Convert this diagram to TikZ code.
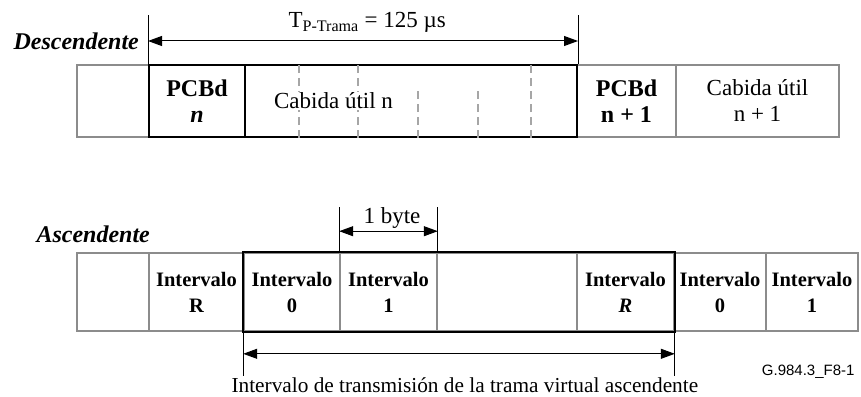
\documentclass[tikz,border=0pt]{standalone}
\usepackage{fontspec}
\setmainfont{Liberation Serif}
\newfontfamily\figfont{Liberation Sans}
\usetikzlibrary{arrows.meta}
\definecolor{frame}{gray}{0.55}
\definecolor{sepgray}{gray}{0.65}

\begin{document}
\begin{tikzpicture}[x=1pt, y=-1pt, >={Triangle[length=14pt, width=10pt]},
    box/.style = {draw=frame, line width=1.6pt, inner sep=0pt, align=center},
    down/.style = {box, minimum height=72pt},
    up/.style = {box, minimum height=78pt},
    heavy/.style = {draw=black, line width=2pt},
    txt/.style = {font=\fontsize{23}{26}\selectfont},
    btxt/.style = {font=\fontsize{24}{26}\selectfont\bfseries},
    slot/.style = {font=\fontsize{20.5}{26}\selectfont\bfseries},
    tick/.style = {line width=1pt},
    sep/.style = {draw=sepgray, line width=1.8pt, dash pattern=on 8pt off 5pt}]
    \useasboundingbox (0,0) rectangle (861,396);

    % Descendente
    \node[down, minimum width=72pt] (d0) at (113,101) {};
    \node[down, btxt, minimum width=99pt] (pcbd1) at (626.5,101) {PCBd\\n + 1};
    \node[down, txt, minimum width=163pt] (cab1) at (757.5,101) {Cabida útil\\n + 1};
    \node[down, heavy, btxt, minimum width=96pt] (pcbd) at (197,101) {PCBd\\\textit{n}};
    \node[down, heavy, minimum width=332pt] (payload) at (411,101) {};
    \foreach \dx/\dy in {55/0, 114/0, 174/23, 234/23, 287/0}
        \draw[sep] ([xshift=\dx pt]payload.south west) -- ([xshift=\dx pt, yshift=-\dy pt]payload.north west);
    \node[txt, fill=white, inner sep=1pt] (cab) at (333.5,101) {Cabida útil n};

    \node[font=\fontsize{24}{26}\selectfont\bfseries\itshape, anchor=base west] (dlabel) at (10,50) {Descendente};
    \coordinate (ta) at ([yshift=49pt]pcbd.north west);
    \coordinate (tb) at ([yshift=49pt]payload.north east);
    \draw[tick] (pcbd.north west) -- (ta);
    \draw[tick] (payload.north east) -- (tb);
    \draw[tick, <->] ([yshift=23pt]pcbd.north west) -- ([yshift=23pt]payload.north east);
    \node[txt, anchor=base west] (period) at (285,28) {T\textsubscript{P-Trama} = 125 µs};

    % Ascendente
    \node[up, minimum width=72pt] (u0) at (113,292) {};
    \node[up, slot, minimum width=95pt] (uR) at (196.5,292) {Intervalo\\R};
    \node[up, slot, minimum width=96pt] (ui0) at (292,292) {Intervalo\\0};
    \node[up, slot, minimum width=97pt] (ui1) at (388.5,292) {Intervalo\\1};
    \node[up, minimum width=140pt] (uempty) at (507,292) {};
    \node[up, slot, minimum width=97pt] (uiR) at (625.5,292) {Intervalo\\\textit{R}};
    \node[up, slot, minimum width=92pt] (un0) at (720,292) {Intervalo\\0};
    \node[up, slot, minimum width=92pt] (un1) at (812,292) {Intervalo\\1};
    \draw[heavy] (ui0.north west) rectangle (uiR.south east);

    \node[font=\fontsize{24}{26}\selectfont\bfseries\itshape, anchor=base west] (alabel) at (33,242) {Ascendente};
    \coordinate (ba) at ([yshift=45pt]ui1.north west);
    \coordinate (bb) at ([yshift=45pt]ui1.north east);
    \draw[tick] (ui1.north west) -- (ba);
    \draw[tick] (ui1.north east) -- (bb);
    \draw[tick, <->] ([yshift=21pt]ui1.north west) -- ([yshift=21pt]ui1.north east);
    \node[txt, anchor=base west] (byte) at (360,223) {1 byte};

    \coordinate (ca) at ([yshift=-44pt]ui0.south west);
    \coordinate (cb) at ([yshift=-44pt]uiR.south east);
    \draw[tick] (ui0.south west) -- (ca);
    \draw[tick] (uiR.south east) -- (cb);
    \draw[tick, <->] ([yshift=-22pt]ui0.south west) -- ([yshift=-22pt]uiR.south east);
    \node[txt, font=\fontsize{21.3}{24}\selectfont, anchor=base west] (window) at (228,392) {Intervalo de transmisión de la trama virtual ascendente};

    \node[font=\figfont\fontsize{15}{18}\selectfont, anchor=base east] (figid) at (858,375) {G.984.3\_F8-1};
\end{tikzpicture}
\end{document}
